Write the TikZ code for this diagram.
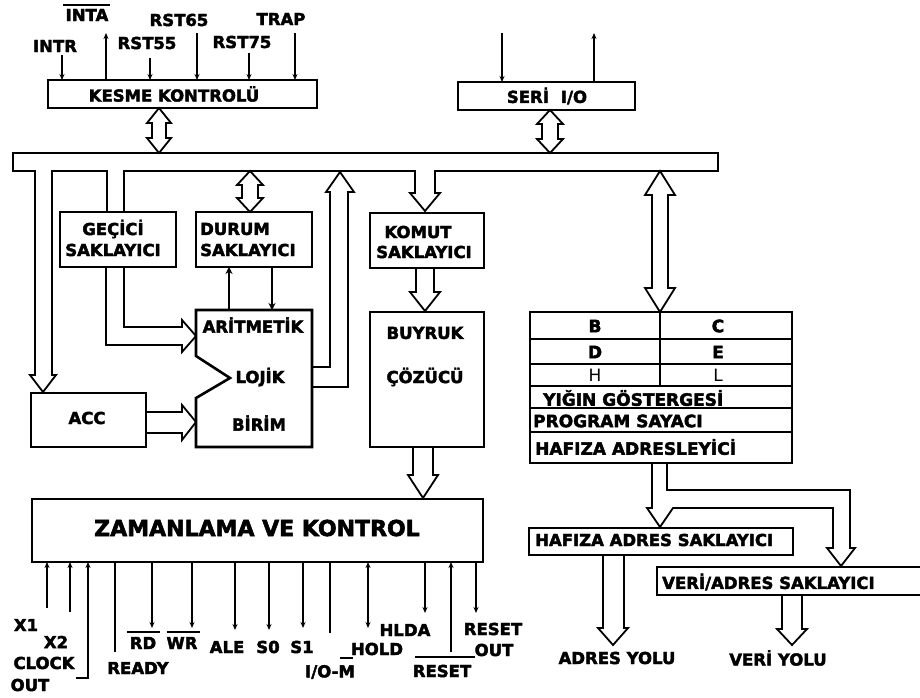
\documentclass[tikz,border=0pt]{standalone}
\usepackage{fontspec}
\setmainfont{DejaVu Sans}[BoldFeatures={FakeBold=2.4}]
\usetikzlibrary{arrows.meta,calc}
\newcommand\lab{\fontsize{16.5}{18}\selectfont\bfseries}
\newcommand\reglab{\fontsize{17}{18}\selectfont\bfseries}
\newcommand\biglab{\fontsize{22}{24}\selectfont\bfseries}
\newcommand\thinlab{\fontsize{17}{18}\selectfont}
% x, y1, y2, half head, half shaft, head length
\newcommand\mydbl[6]{\draw[hol] (#1,#2) -- ({#1+#4},{#2+#6}) -- ({#1+#5},{#2+#6}) -- ({#1+#5},{#3-#6}) -- ({#1+#4},{#3-#6}) -- (#1,#3) -- ({#1-#4},{#3-#6}) -- ({#1-#5},{#3-#6}) -- ({#1-#5},{#2+#6}) -- ({#1-#4},{#2+#6}) -- cycle;}
\begin{document}
\begin{tikzpicture}[x=1pt,y=-1pt,
 box/.style={draw, line width=2.6pt, inner sep=0pt, outer sep=0pt, rectangle},
 txt/.style={inner sep=0pt, font=\lab},
 hol/.style={draw, line width=1.8pt, line join=miter},
 pin/.style={line width=1.3pt, -{Stealth[length=6pt,width=5pt]}},
 pinb/.style={line width=1.3pt, {Stealth[length=6pt,width=5pt]}-{Stealth[length=6pt,width=5pt]}},
 plain/.style={line width=1.3pt},
 ovl/.style={line width=1.3pt},
 thick2/.style={line width=2.2pt, -{Stealth[length=7pt,width=7pt]}},
]
\useasboundingbox[fill=white] (0,0) rectangle (920,697);

% ---------- boxes ----------
\node[box, minimum width=269pt, minimum height=28pt] (kesme) at (182.5,94) {};
\node[txt] (kesmet) at (174,94) {KESME KONTROLÜ};
\node[box, minimum width=177pt, minimum height=28pt] (seri) at (546.5,96) {};
\node[txt] (serit) at (547,96) {SERİ\hspace{12pt}I/O};

\node[box, minimum width=116pt, minimum height=55pt] (gecici) at (118,239.5) {};
\node[txt] (gecici1) at (113,229) {GEÇİCİ};
\node[txt] (gecici2) at (113,250) {SAKLAYICI};
\node[box, minimum width=116pt, minimum height=55pt] (durum) at (254,239.5) {};
\node[txt, anchor=west] (durum1) at (200,229) {DURUM};
\node[txt, anchor=west] (durum2) at (200,250) {SAKLAYICI};
\node[box, minimum width=114pt, minimum height=55pt] (komut) at (427,240.5) {};
\node[txt] (komut1) at (418,232) {KOMUT};
\node[txt] (komut2) at (424,252) {SAKLAYICI};
\node[box, minimum width=114pt, minimum height=135pt] (buyruk) at (427,379.5) {};
\node[txt] (buyruk1) at (425,333) {BUYRUK};
\node[txt] (buyruk2) at (425,377) {ÇÖZÜCÜ};
\node[box, minimum width=115pt, minimum height=54pt] (acc) at (88.5,420) {};
\node[txt] (acct) at (87,418) {ACC};

% ALU
\draw[line width=2.6pt, line join=miter] (196,310) -- (312,310) -- (312,447) -- (196,447) -- (196,398) -- (230,378) -- (196,356) -- cycle;
\coordinate (alu) at (254,378);
\node[txt] (alu1) at (253,325) {ARİTMETİK};
\node[txt] (alu2) at (260,377) {LOJİK};
\node[txt] (alu3) at (259,423) {BİRİM};

% register file
\node[box, minimum width=262pt, minimum height=151pt] (reg) at (661,387.5) {};
\draw[line width=1.5pt] (530,339) -- (792,339) (530,364) -- (792,364) (530,386) -- (792,386) (530,408) -- (792,408) (530,432) -- (792,432);
\draw[line width=1.5pt] (660,312) -- (660,386);
\node[txt, font=\reglab] (rb) at (595,326) {B};
\node[txt, font=\reglab] (rc) at (718,326) {C};
\node[txt, font=\reglab] (rd) at (595,352) {D};
\node[txt, font=\reglab] (re) at (718,352) {E};
\node[txt, font=\thinlab] (rh) at (595,375) {H};
\node[txt, font=\thinlab] (rl) at (718,375) {L};
\node[txt, font=\reglab, anchor=west] (yigin) at (543,398) {YIĞIN GÖSTERGESİ};
\node[txt, font=\reglab, anchor=west] (pc) at (533,421) {PROGRAM SAYACI};
\node[txt, font=\reglab, anchor=west] (hafiza) at (535,447) {HAFIZA ADRESLEYİCİ};

\node[box, minimum width=451pt, minimum height=63pt] (zaman) at (257.5,530.5) {};
\node[txt, font=\biglab] (zamant) at (257,528) {ZAMANLAMA VE KONTROL};

\node[box, minimum width=264pt, minimum height=27pt] (has) at (661,541.5) {};
\node[txt, anchor=west] (hast) at (535,540) {HAFIZA ADRES SAKLAYICI};
\draw[line width=2.6pt] (925,567) -- (657,567) -- (657,595) -- (925,595);
\coordinate (veri) at (790,581);
\node[txt, anchor=west] (verit) at (662,582) {VERİ/ADRES SAKLAYICI};

% ---------- internal bus ----------
\draw[hol] (107,212) -- (107,171) -- (52,171) -- (52,375) -- (56,375) -- (43,392) -- (30,375) -- (35,375) -- (35,171) -- (13,171) -- (13,153) -- (718,153) -- (718,171) -- (435,171) -- (435,193) -- (440,193) -- (425,211) -- (410,193) -- (415,193) -- (415,171) -- (124,171) -- (124,212);

% double arrows to bus
\mydbl{159}{108}{153}{12}{7}{15}
\mydbl{550}{110}{153}{13}{8}{14}
\mydbl{250}{171}{212}{13}{8}{14}
\mydbl{660}{171}{312}{15}{8}{24}

% geçici -> alu
\draw[hol] (124,267) -- (124,327) -- (182,327) -- (182,320) -- (196,336) -- (182,352) -- (182,345) -- (106,345) -- (106,267);
% acc -> alu
\draw[hol] (146,412) -- (182,412) -- (182,405) -- (196,422) -- (182,440) -- (182,433) -- (146,433);
% alu -> bus
\draw[hol] (312,367) -- (330,367) -- (330,192) -- (326,192) -- (340,172) -- (354,192) -- (348,192) -- (348,387) -- (312,387);
% alu <-> durum
\draw[thick2] (229,310) -- (229,267);
\draw[thick2] (272,267) -- (272,310);
% komut -> buyruk
\draw[hol] (416,268) -- (416,292) -- (410,292) -- (425,311) -- (440,292) -- (434,292) -- (434,268);
% buyruk -> zamanlama
\draw[hol] (413,447) -- (413,475) -- (408,475) -- (423,498) -- (438,475) -- (433,475) -- (433,447);
% register file -> address / data latches
\draw[hol] (652,463) -- (652,508) -- (647,508) -- (660,527) -- (673,508) -- (833,508) -- (833,548) -- (827,548) -- (841,566) -- (855,548) -- (850,548) -- (850,490) -- (667,490) -- (667,463);
% buses out
\draw[hol] (603,555) -- (603,628) -- (598,628) -- (613,645) -- (628,628) -- (624,628) -- (624,555);
\draw[hol] (782,595) -- (782,629) -- (777,629) -- (792,645) -- (807,629) -- (802,629) -- (802,595);
\node[txt] (adresyolu) at (617,658) {ADRES YOLU};
\node[txt] (veriyolu) at (778,658) {VERİ YOLU};

% ---------- interrupt pins ----------
\node[txt] (inta) at (87,15) {INTA};
\draw[ovl] (63,5) -- (110,5);
\node[txt] (rst65) at (179,20) {RST65};
\node[txt] (trap) at (281,19) {TRAP};
\node[txt] (intr) at (55,46) {INTR};
\node[txt] (rst55) at (147,43) {RST55};
\node[txt] (rst75) at (242,42) {RST75};
\draw[pin] (62,55) -- (62,80);
\draw[pin] (106,80) -- (106,33);
\draw[pin] (150,58) -- (150,80);
\draw[pin] (197,33) -- (197,80);
\draw[pin] (249,53) -- (249,80);
\draw[pin] (295,33) -- (295,80);
% serial pins
\draw[pin] (502,33) -- (502,82);
\draw[pin] (594,82) -- (594,33);

% ---------- control pins ----------
\draw[pin] (47,608) -- (47,562);
\draw[pin] (70,612) -- (70,562);
\draw[pin] (76,678) -- (88,678) -- (88,562);
\draw[plain] (115,562) -- (115,652);
\draw[pin] (152,562) -- (152,628);
\draw[pin] (192,562) -- (192,628);
\draw[pin] (235,562) -- (235,630);
\draw[pin] (269,562) -- (269,630);
\draw[pin] (303,562) -- (303,628);
\draw[plain] (330,562) -- (330,633);
\draw[pinb] (368,562) -- (368,628);
\draw[pin] (425,562) -- (425,613);
\draw[pin] (451,652) -- (451,562);
\draw[pin] (476,562) -- (476,613);

\node[txt] (x1) at (26,625) {X1};
\node[txt] (x2) at (56,642) {X2};
\node[txt] (clock) at (44,663) {CLOCK};
\node[txt] (clkout) at (30,685) {OUT};
\node[txt] (ready) at (138,668) {READY};
\node[txt] (rdl) at (143,643) {RD};
\draw[ovl] (127,632) -- (160,632);
\node[txt] (wrl) at (182,643) {WR};
\draw[ovl] (167,632) -- (200,632);
\node[txt] (ale) at (227,647) {ALE};
\node[txt] (s0) at (268,647) {S0};
\node[txt] (s1) at (302,647) {S1};
\node[txt] (iom) at (330,672) {I/O-M};
\draw[ovl] (340,658) -- (353,658);
\node[txt] (hold) at (377,649) {HOLD};
\node[txt] (hlda) at (405,630) {HLDA};
\node[txt] (reset) at (442,671) {RESET};
\draw[ovl] (415,657) -- (475,657);
\node[txt] (resetout1) at (493,629) {RESET};
\node[txt] (resetout2) at (494,650) {OUT};
\end{tikzpicture}
\end{document}
